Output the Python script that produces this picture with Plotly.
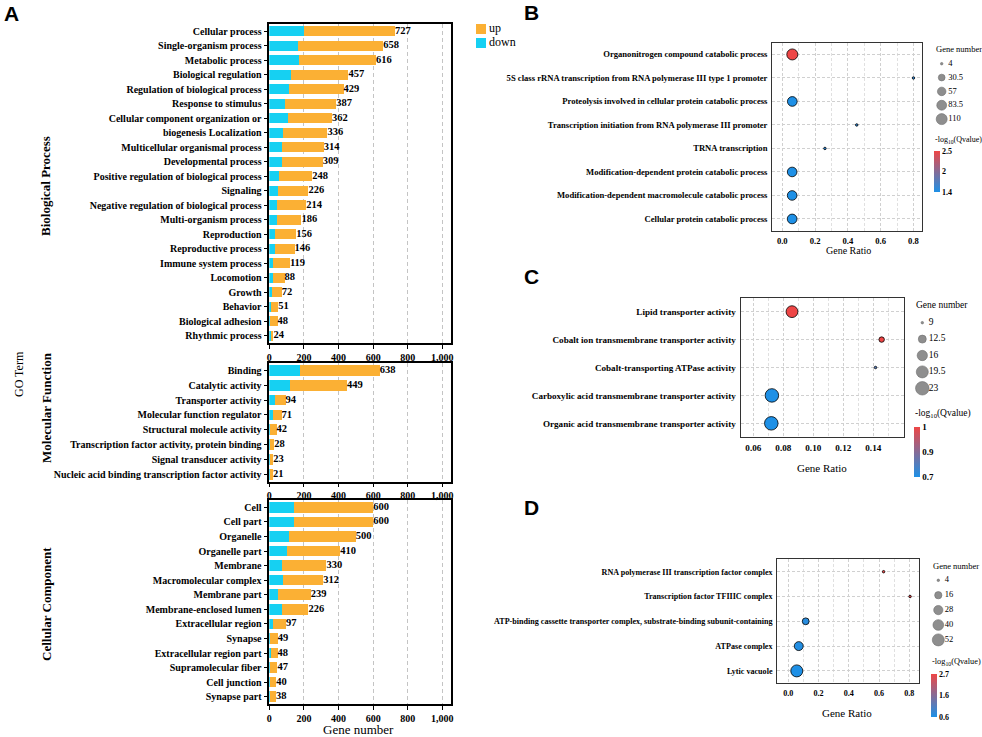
import plotly.graph_objects as go

W, H = 982, 737
def fx(x): return x / W
def fy(y): return 1 - y / H

SERIF = "Liberation Serif"
SANS = "Liberation Sans"
ORANGE = "#FBB034"
CYAN = "#16D0F2"
CSCALE = [[0, "#1E90E6"], [1, "#EE4646"]]

# ---------------- Panel A data ----------------
bp_terms = ["Cellular process", "Single-organism process", "Metabolic process",
            "Biological regulation", "Regulation of biological process", "Response to stimulus",
            "Cellular component organization or", "biogenesis Localization",
            "Multicellular organismal process", "Developmental process",
            "Positive regulation of biological process", "Signaling",
            "Negative regulation of biological process", "Multi-organism process",
            "Reproduction", "Reproductive process", "Immune system process", "Locomotion",
            "Growth", "Behavior", "Biological adhesion", "Rhythmic process"]
bp_total = [727, 658, 616, 457, 429, 387, 362, 336, 314, 309, 248, 226, 214, 186, 156, 146, 119, 88, 72, 51, 48, 24]
bp_down = [200, 165, 173, 123, 113, 88, 106, 79, 75, 73, 56, 50, 44, 42, 35, 33, 21, 21, 13, 12, 4, 13]

mf_terms = ["Binding", "Catalytic activity", "Transporter activity", "Molecular function regulator",
            "Structural molecule activity", "Transcription factor activity, protein binding",
            "Signal transducer activity", "Nucleic acid binding transcription factor activity"]
mf_total = [638, 449, 94, 71, 42, 28, 23, 21]
mf_down = [175, 119, 33, 23, 3, 4, 3, 5]

cc_terms = ["Cell", "Cell part", "Organelle", "Organelle part", "Membrane", "Macromolecular complex",
            "Membrane part", "Membrane-enclosed lumen", "Extracellular region", "Synapse",
            "Extracellular region part", "Supramolecular fiber", "Cell junction", "Synapse part"]
cc_total = [600, 600, 500, 410, 330, 312, 239, 226, 97, 49, 48, 47, 40, 38]
cc_down = [144, 144, 115, 100, 75, 81, 50, 71, 23, 2, 7, 6, 3, 2]

a_ticks = [0, 200, 400, 600, 800, 1000]
a_legend_names = ["up", "down"]

# ---------------- Panel B data ----------------
b_terms = ["Organonitrogen compound catabolic process",
           "5S class rRNA transcription from RNA polymerase III type 1 promoter",
           "Proteolysis involved in cellular protein catabolic process",
           "Transcription initiation from RNA polymerase III promoter",
           "TRNA transcription",
           "Modification-dependent protein catabolic process",
           "Modification-dependent macromolecule catabolic process",
           "Cellular protein catabolic process"]
b_ratio = [0.061, 0.8, 0.061, 0.454, 0.26, 0.06, 0.06, 0.06]
b_count = [110, 4, 80, 4, 4, 78, 78, 80]
b_q = [2.5, 1.5, 1.4, 1.5, 1.5, 1.4, 1.4, 1.4]
b_size_breaks = [4, 30.5, 57, 83.5, 110]
b_size_labels = ["4", "30.5", "57", "83.5", "110"]
b_q_ticks = [1.4, 1.95, 2.5]
b_q_labels = ["1.4", "2", "2.5"]
b_x_ticks = [0.0, 0.2, 0.4, 0.6, 0.8]

# ---------------- Panel C data ----------------
c_terms = ["Lipid transporter activity",
           "Cobalt ion transmembrane transporter activity",
           "Cobalt-transporting ATPase activity",
           "Carboxylic acid transmembrane transporter activity",
           "Organic acid transmembrane transporter activity"]
c_ratio = [0.0858, 0.1456, 0.1415, 0.0724, 0.072]
c_count = [19, 10, 9, 23, 23]
c_q = [1.0, 1.0, 0.78, 0.7, 0.7]
c_size_breaks = [9, 12.5, 16, 19.5, 23]
c_size_labels = ["9", "12.5", "16", "19.5", "23"]
c_q_ticks = [0.7, 0.85, 1.0]
c_q_labels = ["0.7", "0.9", "1"]
c_x_ticks = [0.06, 0.08, 0.10, 0.12, 0.14]

# ---------------- Panel D data ----------------
d_terms = ["RNA polymerase III transcription factor complex",
           "Transcription factor TFIIIC complex",
           "ATP-binding cassette transporter complex, substrate-binding subunit-containing",
           "ATPase complex",
           "Lytic vacuole"]
d_ratio = [0.63, 0.805, 0.115, 0.069, 0.056]
d_count = [4, 4, 14, 26, 52]
d_q = [2.7, 2.6, 0.7, 0.65, 0.6]
d_size_breaks = [4, 16, 28, 40, 52]
d_size_labels = ["4", "16", "28", "40", "52"]
d_q_ticks = [0.6, 1.65, 2.7]
d_q_labels = ["0.6", "1.6", "2.7"]
d_x_ticks = [0.0, 0.2, 0.4, 0.6, 0.8]

fig = go.Figure()
layout = {}
annotations = []

# ---------------- Panel A ----------------
A_X = (269.3, 451.0)
panelsA = [(bp_terms, bp_total, bp_down, (24, 343), ""),
           (mf_terms, mf_total, mf_down, (363, 481.7), "2"),
           (cc_terms, cc_total, cc_down, (500, 704), "3")]
for terms, total, down, (yt, yb), s in panelsA:
    up = [t - d for t, d in zip(total, down)]
    xa, ya = "x" + s, "y" + s
    fig.add_trace(go.Bar(y=terms, x=down, orientation="h", name="down", marker_color=CYAN,
                         marker_line_width=0, width=0.72, xaxis=xa, yaxis=ya,
                         showlegend=False, hoverinfo="skip"))
    fig.add_trace(go.Bar(y=terms, x=up, orientation="h", name="up", marker_color=ORANGE,
                         marker_line_width=0, width=0.72, xaxis=xa, yaxis=ya,
                         showlegend=False, hoverinfo="skip"))
    fig.add_trace(go.Scatter(y=terms, x=total, mode="text", text=[str(t) for t in total],
                             textposition="middle right", cliponaxis=False,
                             textfont=dict(family=SERIF, size=10.5, color="black", weight="bold"),
                             xaxis=xa, yaxis=ya, showlegend=False, hoverinfo="skip"))
    layout["xaxis" + s] = dict(domain=[fx(A_X[0]), fx(A_X[1])], range=[0, 1050], anchor=ya,
                               tickvals=a_ticks, tickformat=",", showline=True, mirror=True,
                               linecolor="black", linewidth=1.5, ticks="outside", ticklen=4,
                               tickcolor="black", tickwidth=1, showgrid=True, gridcolor="#c4c4c4",
                               griddash="4px,3px", gridwidth=1, zeroline=False, automargin=False,
                               tickfont=dict(family=SERIF, size=10, color="black", weight="bold"))
    layout["yaxis" + s] = dict(domain=[fy(yb), fy(yt)], type="category", categoryorder="array",
                               categoryarray=terms, range=[len(terms) - 0.5, -0.5], anchor=xa,
                               showline=True, mirror=True, linecolor="black", linewidth=1.5,
                               ticks="outside", ticklen=4, tickcolor="black", tickwidth=1,
                               showgrid=False, zeroline=False, automargin=False,
                               tickfont=dict(family=SERIF, size=10, color="black", weight="bold"))

# up / down legend keys on their own hidden axes
fig.add_trace(go.Scatter(x=[0, 0], y=[0, 1], mode="markers", xaxis="x10", yaxis="y10",
                         showlegend=False, hoverinfo="skip", cliponaxis=False,
                         marker=dict(symbol="square", size=10, color=[ORANGE, CYAN], line_width=0)))
fig.add_trace(go.Scatter(x=[8, 8], y=[0, 1], mode="text", text=a_legend_names,
                         textposition="middle right", xaxis="x10", yaxis="y10",
                         showlegend=False, hoverinfo="skip", cliponaxis=False,
                         textfont=dict(family=SERIF, size=12, color="black")))
layout["xaxis10"] = dict(domain=[fx(476), fx(536)], range=[-5, 55], visible=False,
                         anchor="y10", fixedrange=True)
layout["yaxis10"] = dict(domain=[fy(50), fy(22)], range=[1.5, -0.5], visible=False,
                         anchor="x10", fixedrange=True)

# ---------------- Dot panels ----------------
def diam(n, lo, hi, dmin, dmax):
    return dmin + (dmax - dmin) * ((n - lo) / (hi - lo)) ** 0.5

def dot_panel(terms, ratio, count, q, breaks, blabels, qticks, qlabels, xticks, xfmt,
              s, ls, xdom, ydom, xrange, fsize, dmin, dmax, leg, cbar, titles):
    xa, ya = "x" + s, "y" + s
    lo, hi = breaks[0], breaks[-1]
    fig.add_trace(go.Scatter(
        x=ratio, y=terms, mode="markers", xaxis=xa, yaxis=ya, showlegend=False,
        hoverinfo="skip", cliponaxis=False,
        marker=dict(size=[diam(n, lo, hi, dmin, dmax) for n in count], color=q,
                    colorscale=CSCALE, cmin=min(q), cmax=max(q), opacity=1,
                    line=dict(color="black", width=0.8), showscale=True,
                    colorbar=dict(x=fx(cbar[0]), xanchor="left", xpad=0,
                                  y=fy(cbar[1]), yanchor="top", ypad=0,
                                  lenmode="pixels", len=cbar[2], thickness=cbar[3],
                                  thicknessmode="pixels", outlinewidth=0, ticks="",
                                  tickvals=qticks, ticktext=qlabels,
                                  tickfont=dict(family=SERIF, size=cbar[4], color="black",
                                                weight="bold")))))
    gridstyle = dict(showgrid=True, gridcolor="#d0d0d0", griddash="3px,2px", gridwidth=0.8)
    layout["xaxis" + s] = dict(domain=[fx(xdom[0]), fx(xdom[1])], range=xrange, anchor=ya,
                               tickvals=xticks, tickformat=xfmt, showline=True, mirror=True,
                               linecolor="#333333", linewidth=1.3, ticks="outside", ticklen=2,
                               tickcolor="rgba(0,0,0,0)", zeroline=False, automargin=False,
                               tickfont=dict(family=SERIF, size=fsize, color="black", weight="bold"),
                               minor=dict(dtick=(xticks[1] - xticks[0]) / 2, tick0=xticks[0],
                                          showgrid=True, gridcolor="#e0e0e0",
                                          griddash="3px,2px", gridwidth=0.7),
                               **gridstyle)
    layout["yaxis" + s] = dict(domain=[fy(ydom[1]), fy(ydom[0])], type="category",
                               categoryorder="array", categoryarray=terms,
                               range=[len(terms) - 0.5, -0.5], anchor=xa, showline=True,
                               mirror=True, linecolor="#333333", linewidth=1.3, ticks="outside",
                               ticklen=2, tickcolor="rgba(0,0,0,0)", zeroline=False,
                               automargin=False,
                               tickfont=dict(family=SERIF, size=fsize, color="black", weight="bold"),
                               **gridstyle)
    # size legend drawn on its own hidden axes (x units = pixels from circle centre)
    lxa, lya = "x" + ls, "y" + ls
    cx, top, step, lfs = leg
    n = len(breaks)
    fig.add_trace(go.Scatter(x=[0] * n, y=list(range(n)), mode="markers", xaxis=lxa, yaxis=lya,
                             showlegend=False, hoverinfo="skip", cliponaxis=False,
                             marker=dict(size=[diam(b, lo, hi, dmin, dmax) for b in breaks],
                                         color="#5f5f5f", line=dict(color="#333333", width=0.6))))
    fig.add_trace(go.Scatter(x=[6.5] * n, y=list(range(n)), mode="text", text=blabels,
                             textposition="middle right", xaxis=lxa, yaxis=lya, showlegend=False,
                             hoverinfo="skip", cliponaxis=False,
                             textfont=dict(family=SERIF, size=lfs, color="black")))
    layout["xaxis" + ls] = dict(domain=[fx(cx - 6), fx(cx + 34)], range=[-6, 34], visible=False,
                                anchor=lya, fixedrange=True)
    layout["yaxis" + ls] = dict(domain=[fy(top + step * (n - 0.5)), fy(top - step * 0.5)],
                                range=[n - 0.5, -0.5], visible=False, anchor=lxa, fixedrange=True)
    for (txt, x, y, size, anchor) in titles:
        annotations.append(dict(text=txt, x=fx(x), y=fy(y), xref="paper", yref="paper",
                                xanchor=anchor, yanchor="middle", showarrow=False,
                                font=dict(family=SERIF, size=size, color="black")))

QT = "-log<sub>10</sub>(Qvalue)"
dot_panel(b_terms, b_ratio, b_count, b_q, b_size_breaks, b_size_labels, b_q_ticks, b_q_labels,
          b_x_ticks, ".1f", "4", "7", (772.3, 922), (42.7, 230.7), [-0.061, 0.852], 8.6,
          2.5, 11, (941.7, 63.7, 13.85, 8.5), (934.3, 151, 41, 6, 8),
          [("Gene number", 934, 49, 8.5, "left"), (QT, 933, 140, 8, "left"),
           ("Gene Ratio", 848, 250, 10, "center")])
dot_panel(c_terms, c_ratio, c_count, c_q, c_size_breaks, c_size_labels, c_q_ticks, c_q_labels,
          c_x_ticks, ".2f", "5", "8", (740.7, 904), (297.7, 437.3), [0.0516, 0.1605], 9.1,
          2.5, 13.5, (922.3, 322.7, 16.4, 9.5), (914.3, 427, 50, 6, 9),
          [("Gene number", 914, 305, 9.5, "left"), (QT, 913, 413, 9.5, "left"),
           ("Gene Ratio", 822, 468, 11, "center")])
dot_panel(d_terms, d_ratio, d_count, d_q, d_size_breaks, d_size_labels, d_q_ticks, d_q_labels,
          d_x_ticks, ".1f", "6", "9", (777.3, 919), (559.3, 683.3), [-0.0727, 0.864], 8.1,
          2.5, 12, (938.3, 580.3, 14.9, 8.5), (931, 674, 43, 6, 8),
          [("Gene number", 931, 566, 8.5, "left"), (QT, 930, 662, 8.3, "left"),
           ("Gene Ratio", 847, 713, 11, "center")])

# ---------------- Text annotations ----------------
for letter, x, y in [("A", 2, 13), ("B", 522, 12), ("C", 522, 277), ("D", 522, 507)]:
    annotations.append(dict(text=letter, x=fx(x), y=fy(y), xref="paper", yref="paper",
                            xanchor="left", yanchor="middle", showarrow=False,
                            font=dict(family=SANS, size=21, color="black", weight="bold")))
for txt, x, y in [("Biological Process", 46, 186), ("Molecular Function", 46, 408),
                  ("Cellular Component", 46, 604)]:
    annotations.append(dict(text=txt, x=fx(x), y=fy(y), xref="paper", yref="paper",
                            xanchor="center", yanchor="middle", textangle=-90, showarrow=False,
                            font=dict(family=SERIF, size=13, color="black", weight="bold")))
annotations.append(dict(text="GO Term", x=fx(19), y=fy(374), xref="paper", yref="paper",
                        xanchor="center", yanchor="middle", textangle=-90, showarrow=False,
                        font=dict(family=SERIF, size=12, color="black")))
annotations.append(dict(text="Gene number", x=fx(358), y=fy(729), xref="paper", yref="paper",
                        xanchor="center", yanchor="middle", showarrow=False,
                        font=dict(family=SERIF, size=13, color="black")))

layout.update(dict(
    width=W, height=H, margin=dict(l=0, r=0, t=0, b=0), template="none",
    paper_bgcolor="white", plot_bgcolor="white", barmode="stack", showlegend=False,
    font=dict(family=SERIF, color="black"),
    annotations=annotations,
))
fig.update_layout(**layout)
fig.write_html("out.html", config={"displayModeBar": False},
               post_script="document.body.style.margin='0px';document.body.style.padding='0px';")
